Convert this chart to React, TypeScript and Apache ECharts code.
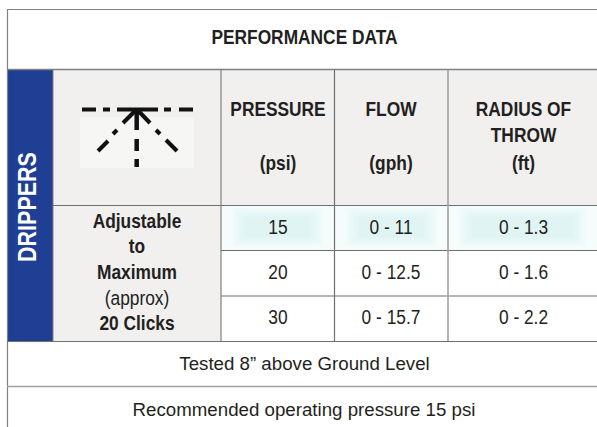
import React, { useEffect, useRef } from "react";
import * as echarts from "echarts";

const title = "PERFORMANCE DATA";
const sideLabel = "DRIPPERS";
const headers = [["PRESSURE", "", "(psi)"], ["FLOW", "", "(gph)"], ["RADIUS OF", "THROW", "(ft)"]];
const pressure = ["15", "20", "30"];
const flow = ["0 - 11", "0 - 12.5", "0 - 15.7"];
const radius = ["0 - 1.3", "0 - 1.6", "0 - 2.2"];
const leftLines = [
  { t: "Adjustable", b: true },
  { t: "to", b: true },
  { t: "Maximum", b: true },
  { t: "(approx)", b: false },
  { t: "20 Clicks", b: true },
];
const notes = ["Tested 8” above Ground Level", "Recommended operating pressure 15 psi"];

const FONT = "Liberation Sans, Arial, sans-serif";
const INK = "#231f20";
const LINE = "#808080";
const BG = "#f1f0ef";
const BLUE = "#1f3f94";
const colX = [221, 334.5, 448, 597];
const rowY = [205.5, 250.5, 296, 341.5];
const SIZE = 19.5;
const SQUEEZE = 0.89;

const txt = (x: number, y: number, t: string, bold: boolean, size = SIZE, sx = SQUEEZE) => ({
  type: "text",
  x,
  y,
  scaleX: sx,
  silent: true,
  z: 5,
  style: {
    text: t,
    fill: INK,
    font: `${bold ? "bold " : ""}${size}px ${FONT}`,
    align: "center",
    verticalAlign: "middle",
  },
});
const rect = (x: number, y: number, w: number, h: number, fill: any) => ({
  type: "rect",
  silent: true,
  z: 1,
  shape: { x, y, width: w, height: h },
  style: { fill },
});
const line = (x1: number, y1: number, x2: number, y2: number, lw = 1.2, c = LINE, z = 3) => ({
  type: "line",
  silent: true,
  z,
  shape: { x1, y1, x2, y2 },
  style: { stroke: c, lineWidth: lw },
});
const seg = (s: number[], lw = 4) => line(s[0], s[1], s[2], s[3], lw, "#111111", 4);

function buildGraphics() {
  const g: any[] = [];
  g.push(rect(8, 70, 45, 271, BLUE));
  g.push(rect(53, 70, 168, 271, BG));
  g.push(rect(221, 70, 376, 135, BG));
  // pale teal glow of the first data row, layered to give a soft edge
  for (let i = 0; i < 3; i++) {
    const w = colX[i + 1] - colX[i];
    g.push(rect(colX[i], rowY[0], w, rowY[1] - rowY[0], "#f6fcfc"));
    for (let k = 0; k < 8; k++) {
      g.push({
        ...rect(colX[i] + 10 + 2 * k, rowY[0] + 1 + 1.5 * k, w - 20 - 4 * k, 41 - 3 * k, "rgba(190,226,222,0.045)"),
        z: 2,
      });
    }
  }
  // icon backdrop
  g.push({ ...rect(80, 117, 114, 51, "#f6f6f5"), z: 2 });
  // icon
  [[82, 96], [103, 110], [117, 158], [164, 171], [179, 193]].forEach(([a, b]) => g.push(seg([a, 109.5, b, 109.5])));
  [[136.7, 110, 136.7, 130], [136.7, 139, 136.7, 151], [136.7, 159, 136.7, 167]].forEach((s) => g.push(seg(s, 4.5)));
  [
    [136, 110, 123, 123],
    [117, 130, 113, 134],
    [108, 141, 98, 151],
    [137.5, 110, 150, 123],
    [156, 130, 160, 134],
    [166, 140, 177, 151],
  ].forEach((s) => g.push(seg(s)));
  // rules
  g.push(line(7.5, 9, 7.5, 427));
  g.push(line(7, 9.5, 597, 9.5));
  g.push(line(7, 69.5, 597, 69.5, 1.4));
  g.push(line(53, 205.5, 597, 205.5, 1.2, "#6f6f6f"));
  g.push(line(221, 250.5, 597, 250.5, 1.2, "#6f6f6f"));
  g.push(line(221, 296, 597, 296, 1.2, "#6f6f6f"));
  g.push(line(7, 341.5, 597, 341.5, 1.2, "#6f6f6f"));
  g.push(line(7, 386.5, 597, 386.5, 1.6, "#a0a0a0"));
  g.push(line(53, 70, 53, 341, 1));
  g.push(line(221, 70, 221, 341));
  g.push(line(334.5, 70, 334.5, 341, 1.2, "#6f6f6f"));
  g.push(line(448, 70, 448, 341, 1.6, "#a0a0a0"));
  // texts
  g.push(txt(304.5, 37.5, title, true));
  const side = txt(27.5, 207, sideLabel, true, 25, 0.86);
  g.push({ ...side, rotation: Math.PI / 2, style: { ...side.style, fill: "#ffffff" } });
  const headCx = [278, 391, 523.5];
  const headY = [109.5, 135.5, 163];
  headers.forEach((h, i) => h.forEach((t, j) => t && g.push(txt(headCx[i], headY[j], t, true))));
  const leftY = [221.5, 246.5, 272.5, 298.5, 323];
  leftLines.forEach((l, i) => g.push(txt(137, leftY[i], l.t, l.b)));
  const dataY = [227.5, 272.5, 317.5];
  pressure.forEach((t, i) => g.push(txt(278, dataY[i], t, false)));
  flow.forEach((t, i) => g.push(txt(391, dataY[i], t, false)));
  radius.forEach((t, i) => g.push(txt(523.5, dataY[i], t, false)));
  g.push(txt(304.5, 363.5, notes[0], false, 18.7, 1));
  g.push(txt(304, 409, notes[1], false, 18.7, 1));
  return g;
}

export default function App() {
  const ref = useRef<HTMLDivElement>(null);
  useEffect(() => {
    const chart = echarts.init(ref.current!, undefined, { renderer: "svg" });
    chart.setOption({
      animation: false,
      backgroundColor: "#ffffff",
      graphic: { elements: buildGraphics() },
    });
    return () => chart.dispose();
  }, []);
  return <div ref={ref} style={{ position: "absolute", left: 0, top: 0, width: 597, height: 427 }} />;
}
